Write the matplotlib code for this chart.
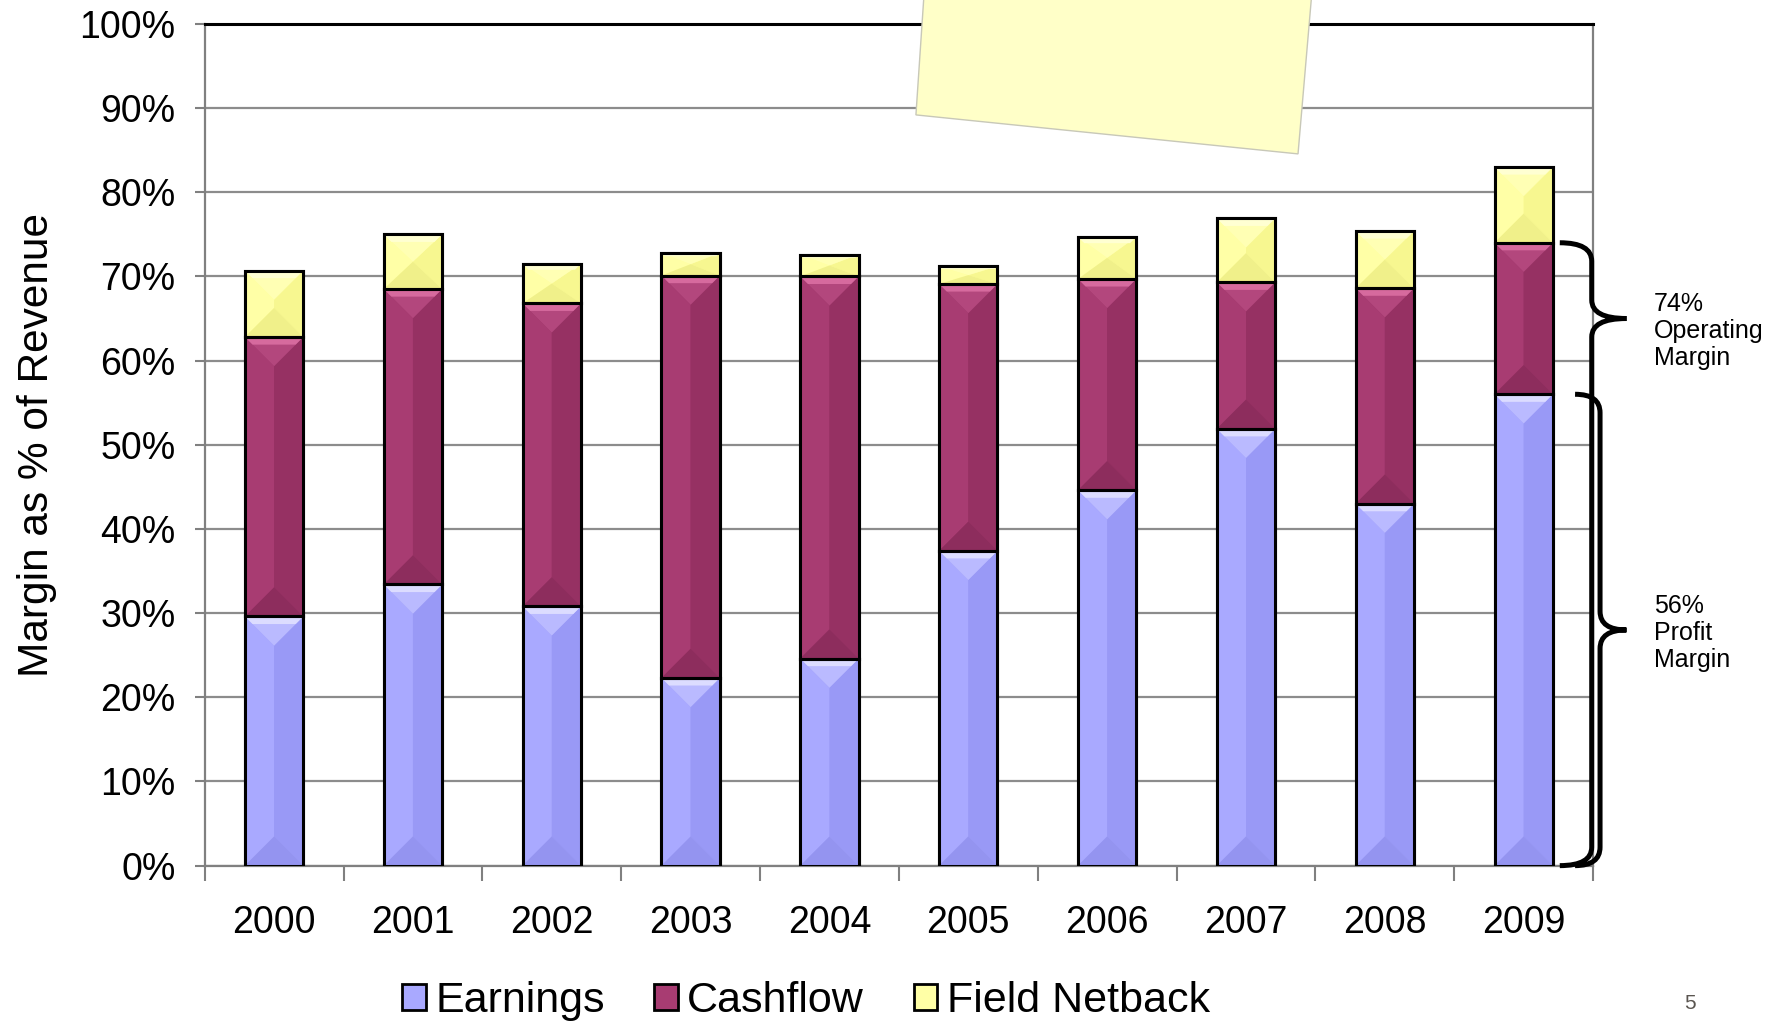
import numpy as np
import matplotlib
matplotlib.use("Agg")
import matplotlib.pyplot as plt
from matplotlib.patches import Polygon, Patch, PathPatch
from matplotlib.path import Path
from matplotlib.ticker import FixedLocator, PercentFormatter

plt.rcParams['font.family'] = ['Liberation Sans', 'DejaVu Sans']

years = ["2000", "2001", "2002", "2003", "2004", "2005", "2006", "2007", "2008", "2009"]
earnings = [29.6, 33.4, 30.8, 22.3, 24.6, 37.4, 44.6, 51.9, 43.0, 56.0]
cashflow = [33.2, 35.1, 36.0, 47.8, 45.4, 31.7, 25.1, 17.4, 25.6, 18.0]
netback = [7.9, 6.5, 4.7, 2.7, 2.6, 2.1, 5.0, 7.6, 6.8, 9.0]
series_names = ["Earnings", "Cashflow", "Field Netback"]

# base, left face, right face, top bevel, top edge highlight, bottom bevel
palettes = [
    ("#a0a0fa", "#a9a9ff", "#9999f6", "#babaff", "#dcdcff", "#9494f0"),
    ("#993366", "#a83c72", "#963163", "#b3477d", "#d66a9e", "#8d2d5d"),
    ("#ffff99", "#ffffa6", "#f7f790", "#ffffb4", "#ffffd2", "#f0f08a"),
]

fig = plt.figure(figsize=(17.83, 10.26), dpi=100)
ax = fig.add_axes([0.1148, 0.1563, 0.7787, 0.8204])

x = np.arange(len(years))
width = 0.42
ax.set_xlim(-0.5, len(years) - 0.5)
ax.set_ylim(0, 100)

# vertical size of a 45 degree bevel in data units
px_per_x = ax.transData.transform((1, 0))[0] - ax.transData.transform((0, 0))[0]
px_per_y = ax.transData.transform((0, 1))[1] - ax.transData.transform((0, 0))[1]
bevel = (width / 2) * px_per_x / px_per_y

bottom = np.zeros(len(years))
for vals, pal in zip([earnings, cashflow, netback], palettes):
    bars = ax.bar(x, vals, width, bottom=bottom, color=pal[0], edgecolor="black",
                  linewidth=2.2, zorder=3)
    for b in bars:
        xl = b.get_x()
        xr = xl + b.get_width()
        xc = (xl + xr) / 2
        y0 = b.get_y()
        y1 = y0 + b.get_height()
        d = min(bevel, (y1 - y0) / 2)
        sy = min(0.9, d * 0.3)
        sx = sy * px_per_y / px_per_x
        faces = [
            ([(xl, y0), (xc, y0 + d), (xc, y1 - d), (xl, y1)], pal[1]),
            ([(xr, y0), (xc, y0 + d), (xc, y1 - d), (xr, y1)], pal[2]),
            ([(xl, y1), (xr, y1), (xc, y1 - d)], pal[3]),
            ([(xl, y1), (xr, y1), (xr - sx, y1 - sy), (xl + sx, y1 - sy)], pal[4]),
            ([(xl, y0), (xr, y0), (xc, y0 + d)], pal[5]),
        ]
        for pts, c in faces:
            ax.add_patch(Polygon(pts, closed=True, facecolor=c, edgecolor="none", zorder=3.5))
        ax.add_patch(Polygon([(xl, y0), (xr, y0), (xr, y1), (xl, y1)], closed=True,
                             facecolor="none", edgecolor="black", linewidth=2.2, zorder=4))
    bottom = bottom + np.array(vals)

# axes styling
ax.yaxis.set_major_locator(FixedLocator(np.arange(0, 101, 10)))
ax.yaxis.set_major_formatter(PercentFormatter(decimals=0))
ax.xaxis.set_major_locator(FixedLocator(np.arange(-0.5, len(years), 1.0)))
ax.xaxis.set_major_formatter(plt.NullFormatter())
ax.xaxis.set_minor_locator(FixedLocator(x))
ax.set_xticklabels(years, minor=True)
ax.tick_params(axis="x", which="major", length=11, width=1.5, color="#808080", direction="out")
ax.tick_params(axis="x", which="minor", length=0, pad=28, labelsize=27)
ax.tick_params(axis="y", length=7, width=1.5, color="#808080", direction="out", pad=14,
               labelsize=27)
ax.grid(axis="y", color="#8c8c8c", linewidth=1.6, zorder=0)
ax.set_axisbelow(True)
for side in ["left", "bottom", "right"]:
    ax.spines[side].set_color("#808080")
    ax.spines[side].set_linewidth(1.6)
ax.spines["top"].set_color("black")
ax.spines["top"].set_linewidth(2.2)

ax.set_ylabel("Margin as % of Revenue", fontsize=30.5, labelpad=16)


def brace(ax, xv, xhook, xtip, y0, y1, ytip):
    # curly bracket drawn along the right edge of the plot
    r = 2.2
    verts = [(xhook, y1), (xv, y1), (xv, y1 - r), (xv, ytip + r), (xv, ytip), (xtip, ytip),
             (xtip, ytip), (xv, ytip), (xv, ytip - r), (xv, y0 + r), (xv, y0), (xhook, y0)]
    codes = [Path.MOVETO, Path.CURVE3, Path.CURVE3, Path.LINETO, Path.CURVE3, Path.CURVE3,
             Path.MOVETO, Path.CURVE3, Path.CURVE3, Path.LINETO, Path.CURVE3, Path.CURVE3]
    ax.add_patch(PathPatch(Path(verts, codes), facecolor="none", edgecolor="black",
                           linewidth=3.6, clip_on=False, zorder=5, capstyle="butt"))


operating = earnings[-1] + cashflow[-1]
profit = earnings[-1]
brace(ax, 9.49, 9.26, 9.74, 0, operating, 65)
brace(ax, 9.55, 9.37, 9.74, 0, profit, profit / 2)

ax.text(9.94, 63.5, f"{operating:.0f}%\nOperating\nMargin", fontsize=18, va="center",
        ha="left", linespacing=1.15)
ax.text(9.94, 27.6, f"{profit:.0f}%\nProfit\nMargin", fontsize=18, va="center",
        ha="left", linespacing=1.15)

# sticky note at the top
note = Polygon([(0.5188, 1.02), (0.5137, 0.888), (0.7280, 0.850), (0.7364, 1.02)],
               closed=True, transform=fig.transFigure, facecolor="#ffffc8",
               edgecolor="#c8c8b8", linewidth=1.0, zorder=10)
fig.patches.append(note)

handles = [Patch(facecolor=p[1], edgecolor="black", linewidth=2.0) for p in palettes]
fig.legend(handles, series_names, loc="center", bbox_to_anchor=(0.452, 0.024), ncol=3,
           frameon=False, handlelength=0.55, handleheight=0.55,
           handletextpad=0.22, columnspacing=1.15,
           prop={"family": ["Liberation Sans"], "size": 31})

fig.text(0.948, 0.022, "5", fontsize=15, color="#5a5550", ha="center", va="center")

fig.savefig("out.png", dpi=100)
